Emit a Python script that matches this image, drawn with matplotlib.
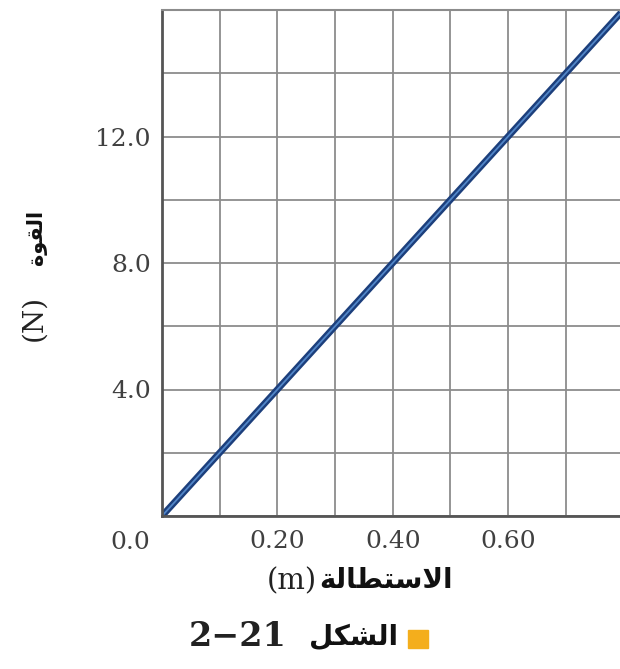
import matplotlib
matplotlib.use('Agg')
import matplotlib.pyplot as plt
from matplotlib.ticker import MultipleLocator

# data: force vs stretch (straight line through origin)
stretch = [0.0, 0.80]          # m
force = [0.0, 16.0]            # N
x_ticks = [0.20, 0.40, 0.60]
x_tick_labels = ['0.20', '0.40', '0.60']
y_ticks = [4.0, 8.0, 12.0]
y_tick_labels = ['4.0', '8.0', '12.0']

# arabic labels, pre-shaped (presentation forms) in visual order
x_label_ar = '\ufe94\ufedf\ufe8e\ufec4\ufe98\ufeb3\ufefb\ufe8d'   # الاستطالة
y_label_ar = '\ufe93\ufeee\ufed8\ufedf\ufe8d'                     # القوة
caption_ar = '\ufede\ufedc\ufeb8\ufedf\ufe8d'                     # الشكل
caption_num = '2\u221221'

serif = 'DejaVu Serif'
tick_col = '#404040'

fig = plt.figure(figsize=(6.2, 6.69), dpi=100)
ax = fig.add_axes([162 / 620, 153 / 669, 458 / 620, 506 / 669])

ax.set_xlim(0, 0.794)
ax.set_ylim(0, 16)

# grid every 0.1 m and 2 N
ax.xaxis.set_minor_locator(MultipleLocator(0.1))
ax.yaxis.set_minor_locator(MultipleLocator(2))
ax.grid(which='both', color='#8c8c8c', linewidth=1.3)
ax.set_axisbelow(True)

ax.set_xticks(x_ticks)
ax.set_xticklabels(x_tick_labels)
ax.set_yticks(y_ticks)
ax.set_yticklabels(y_tick_labels)
ax.tick_params(which='both', length=0)
ax.tick_params(axis='x', pad=10, labelsize=18, labelcolor=tick_col)
ax.tick_params(axis='y', pad=8, labelsize=18, labelcolor=tick_col)
for lab in ax.get_xticklabels() + ax.get_yticklabels():
    lab.set_family(serif)

for side in ['left', 'bottom']:
    ax.spines[side].set_color('#555555')
    ax.spines[side].set_linewidth(2)
ax.spines['top'].set_color('#8c8c8c')
ax.spines['top'].set_linewidth(1.5)
ax.spines['right'].set_visible(False)

# the line, dark edge with lighter core
ax.plot(stretch, force, color='#1c3f7c', linewidth=4.8, solid_capstyle='butt')
ax.plot(stretch, force, color='#5286c8', linewidth=1.3, solid_capstyle='butt')

# origin label
ax.annotate('0.0', xy=(0, 0), xytext=(-23, -19), textcoords='offset points',
            ha='center', va='center', fontsize=18, family=serif, color=tick_col,
            annotation_clip=False)

# axis labels
fig.text(317 / 620, 1 - 581 / 669, '(m)', ha='right', va='center', fontsize=21,
         family=serif, color='#222222')
fig.text(319 / 620, 1 - 580 / 669, x_label_ar, ha='left', va='center', fontsize=20,
         family='DejaVu Sans', weight='bold', color='#111111')

fig.text(34 / 620, 1 - 318 / 669, '(N)', ha='center', va='center', rotation=90,
         fontsize=20, family=serif, color='#222222')
fig.text(36 / 620, 1 - 237 / 669, y_label_ar, ha='center', va='center', rotation=90,
         fontsize=15, family='DejaVu Sans', weight='bold', color='#111111')

# caption
fig.text(287 / 620, 1 - 636 / 669, caption_num, ha='right', va='center', fontsize=24,
         family=serif, weight='bold', color='#222222')
fig.text(309 / 620, 1 - 637 / 669, caption_ar, ha='left', va='center', fontsize=20,
         family='DejaVu Sans', weight='bold', color='#111111')
fig.patches.append(plt.Rectangle((408 / 620, 1 - 648 / 669), 20 / 620, 18 / 669,
                                 transform=fig.transFigure, color='#f4ae1c'))

fig.savefig('out.png', dpi=100)
